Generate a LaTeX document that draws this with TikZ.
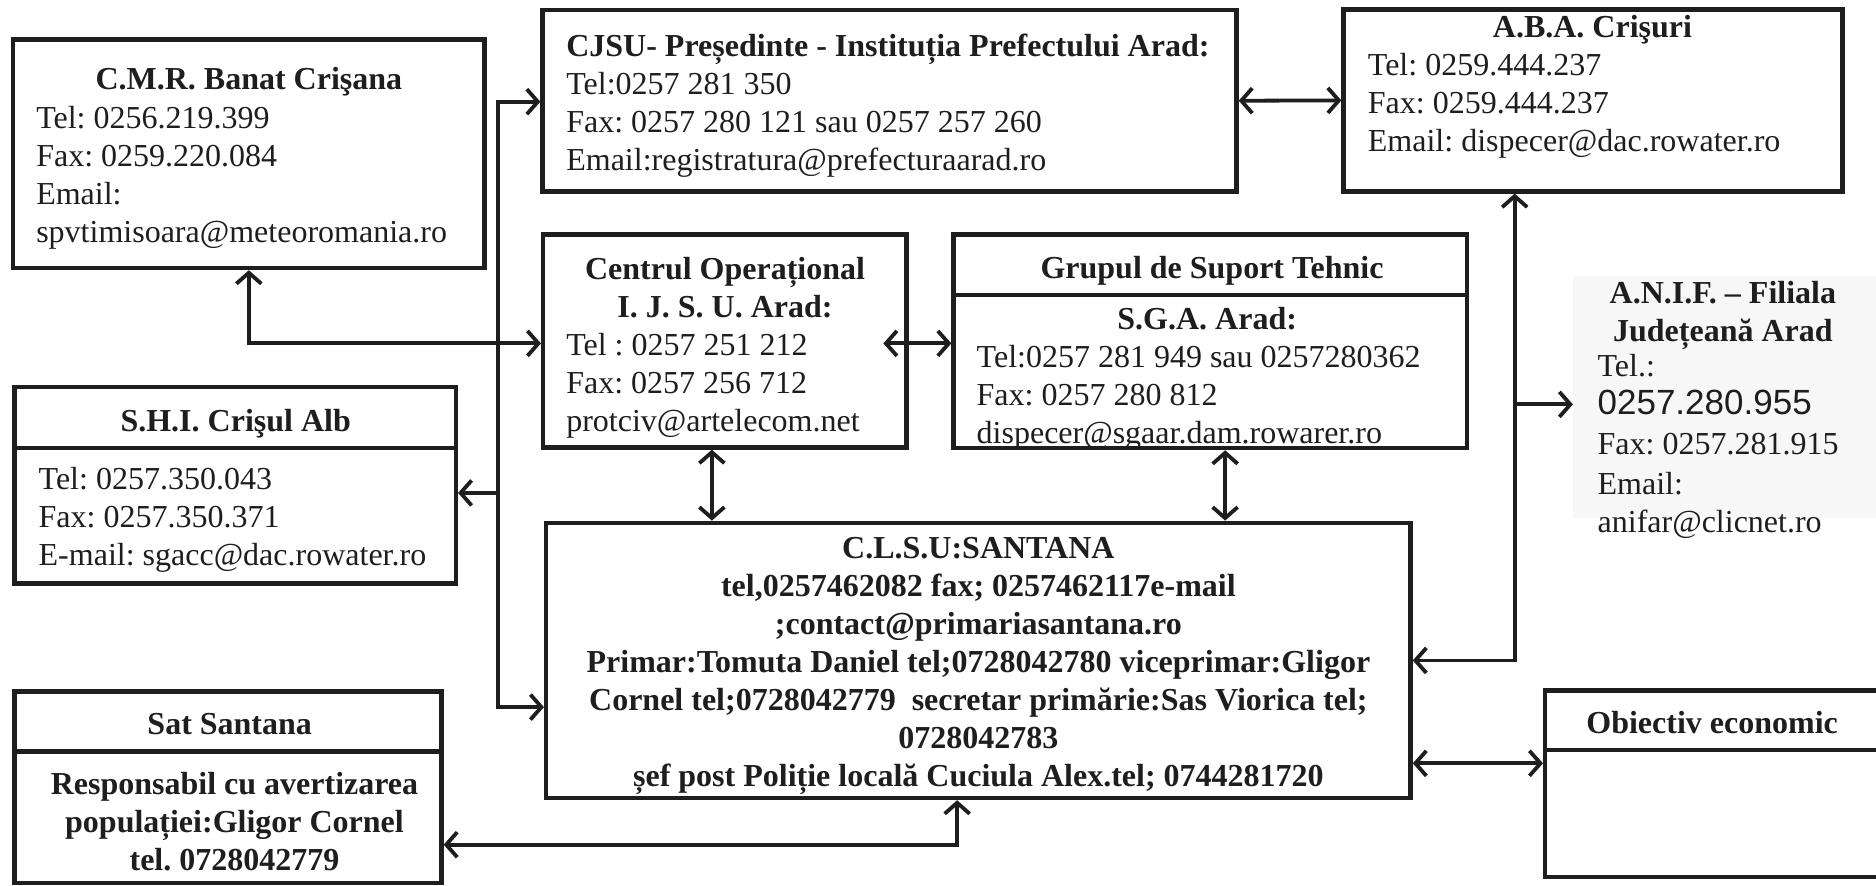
\documentclass[tikz,border=0pt]{standalone}
\usepackage{fontspec}
\setmainfont{Liberation Serif}
\newfontfamily\arialf{Liberation Sans}
\usetikzlibrary{arrows.meta}
\newcommand{\U}{0.5982pt}
\definecolor{ink}{HTML}{1E1E1E}
\frenchspacing
\tikzset{
  box/.style={draw=ink, line width=2.2pt, inner sep=0pt},
  divider/.style={draw=ink, line width=2.2pt},
  txt/.style={font=\fontsize{16}{19}\selectfont, text=ink, inner sep=0pt, align=left},
  ttl/.style={font=\fontsize{16}{19}\selectfont\bfseries, text=ink, inner sep=0pt, align=center},
  conn/.style={draw=ink, line width=1.9pt},
  >={Straight Barb[length=5.5pt,width=12.5pt]},
}
\begin{document}
\begin{tikzpicture}[x=0.5982pt, y=-0.5982pt]
\useasboundingbox[fill=white] (0,0) rectangle (1568,739.7);

% faint background of the A.N.I.F. block
\node[fill=black!3, inner sep=0pt, minimum width=265*\U, minimum height=202*\U] (anif) at (1447.5,332) {};

% boxes
\node[box, minimum width=394*\U, minimum height=191*\U] (cmr) at (208,128.5) {};
\node[box, minimum width=580*\U, minimum height=151.6*\U] (cjsu) at (743.5,84.2) {};
\node[box, minimum width=417*\U, minimum height=152.2*\U] (aba) at (1331.5,83.9) {};
\node[box, minimum width=303.5*\U, minimum height=178*\U] (centrul) at (605.75,285) {};
\node[box, minimum width=429*\U, minimum height=178.5*\U] (grupul) at (1011.5,285.25) {};
\node[box, minimum width=369*\U, minimum height=164*\U] (shi) at (196.5,405.65) {};
\node[box, minimum width=722.5*\U, minimum height=230*\U] (clsu) at (817.75,552) {};
\node[box, minimum width=357*\U, minimum height=160*\U] (sat) at (190.5,658) {};
\node[box, minimum width=280.5*\U, minimum height=156*\U] (obj) at (1431.75,655) {};

% dividers
\coordinate (dg) at (0,246.6);
\coordinate (ds) at (0,374.6);
\coordinate (dt) at (0,628);
\coordinate (do) at (0,627);
\draw[divider] (dg -| grupul.west) -- (dg -| grupul.east);
\draw[divider] (ds -| shi.west) -- (ds -| shi.east);
\draw[divider] (dt -| sat.west) -- (dt -| sat.east);
\draw[divider] (do -| obj.west) -- (do -| obj.east);

% texts
\node[ttl, anchor=base] (cmrT) at (208,75) {C.M.R. Banat Crişana};
\node[txt, anchor=north west] (cmrB) at (30,88.5) {Tel: 0256.219.399\\Fax: 0259.220.084\\Email:\\spvtimisoara@meteoromania.ro};

\node[txt, anchor=north west] (cjsuB) at (473,28) {\textbf{CJSU- Președinte - Instituția Prefectului Arad:}\\Tel:0257 281 350\\Fax: 0257 280 121 sau 0257 257 260\\Email:registratura@prefecturaarad.ro};

\node[ttl, anchor=base] (abaT) at (1331,31) {A.B.A. Crişuri};
\node[txt, anchor=north west] (abaB) at (1143,44) {Tel: 0259.444.237\\Fax: 0259.444.237\\Email: dispecer@dac.rowater.ro};

\node[ttl, anchor=north] (centrulT) at (606,214.5) {Centrul Operațional\\I. J. S. U. Arad:};
\node[txt, anchor=north west] (centrulB) at (473,278.5) {Tel : 0257 251 212\\Fax: 0257 256 712\\protciv@artelecom.net};

\node[ttl, anchor=base] (grupulT) at (1013,233) {Grupul de Suport Tehnic};
\node[ttl, anchor=base] (sgaT) at (1009,275) {S.G.A. Arad:};
\node[txt, anchor=north west] (grupulB) at (816,288.5) {Tel:0257 281 949 sau 0257280362\\Fax: 0257 280 812\\dispecer@sgaar.dam.rowarer.ro};

\node[ttl, anchor=north] (anifT) at (1440,234.5) {A.N.I.F. – Filiala\\Județeană Arad};
\node[txt, anchor=north west] (anifB) at (1335,295.5) {Tel.:\\{\arialf\fontsize{17.5}{19}\selectfont 0257.280.955}\\[1pt]Fax: 0257.281.915\\[1pt]Email:\\anifar@clicnet.ro};

\node[ttl, anchor=base] (shiT) at (197,361) {S.H.I. Crişul Alb};
\node[txt, anchor=north west] (shiB) at (32,390.5) {Tel: 0257.350.043\\Fax: 0257.350.371\\E-mail: sgacc@dac.rowater.ro};

\node[ttl, anchor=north] (clsuT) at (817.75,448.5) {C.L.S.U:SANTANA\\tel,0257462082 fax; 0257462117e-mail\\;contact@primariasantana.ro\\Primar:Tomuta Daniel tel;0728042780 viceprimar:Gligor\\Cornel tel;0728042779\ \ secretar primărie:Sas Viorica tel;\\0728042783\\șef post Poliție locală Cuciula Alex.tel; 0744281720};

\node[ttl, anchor=base] (satT) at (192,614) {Sat Santana};
\node[ttl, anchor=north] (satB) at (196,645.5) {Responsabil cu avertizarea\\populației:Gligor Cornel\\tel. 0728042779};

\node[ttl, anchor=base] (objT) at (1431,613) {Obiectiv economic};

% connectors
\coordinate (bt) at (416,85);
\coordinate (bb) at (416,591);
\coordinate (bs) at (416,412);
\coordinate (cy) at (0,287);
\coordinate (cx1) at (595,0);
\coordinate (cx2) at (1024,0);
\coordinate (ax) at (1266,0);
\coordinate (ay) at (0,338);
\coordinate (oy) at (0,638);
\coordinate (sy) at (0,706);
\coordinate (sx) at (800,0);

\draw[conn, <->] (bt -| cjsu.west) -- (bt) -- (bb) -- (bb -| clsu.west);
\draw[conn, ->] (bs) -- (bs -| shi.east);
\draw[conn, <->] (cmr.south) -- (cmr.south |- cy) -- (cy -| centrul.west);
\draw[conn, <->] ([xshift=-21*\U]centrul.east |- cy) -- (cy -| grupul.west);
\draw[conn, <->] (cx1 |- centrul.south) -- (cx1 |- clsu.north);
\draw[conn, <->] (cx2 |- grupul.south) -- (cx2 |- clsu.north);
\draw[conn, <->] (cjsu.east) -- (aba.west);
\draw[conn, <->] (ax |- aba.south) -- (ax |- clsu.east) -- (clsu.east);
\draw[conn, ->] (ax |- ay) -- (ay -| anif.west);
\draw[conn, <->] (oy -| clsu.east) -- (oy -| obj.west);
\draw[conn, <->] (sy -| sat.east) -- (sx |- sy) -- (sx |- clsu.south);
\end{tikzpicture}
\end{document}
